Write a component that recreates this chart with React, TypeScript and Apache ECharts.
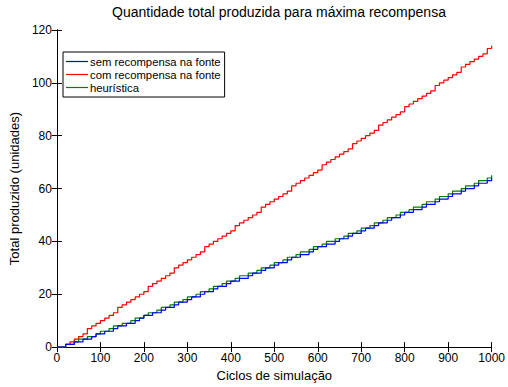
import React, { useEffect, useRef } from "react";
import * as echarts from "echarts";

const title = "Quantidade total produzida para máxima recompensa";
const xName = "Ciclos de simulação";
const yName = "Total produzido (unidades)";
const seriesNames = ["sem recompensa na fonte", "com recompensa na fonte", "heurística"];
const colors = ["#0000ff", "#ff0000", "#008000"];

// cycle samples every 10 cycles: 0, 10, ..., 1000
const cycles: number[] = Array.from({ length: 101 }, (_, i) => i * 10);

const semRecompensa = [
  0, 0, 1, 1, 2, 2, 3, 3, 4, 5, 5,
  6, 6, 7, 8, 8, 9, 9, 10, 11, 12,
  12, 13, 13, 14, 15, 15, 16, 17, 17, 18,
  19, 19, 20, 21, 21, 22, 23, 23, 24, 25,
  25, 26, 26, 27, 28, 28, 29, 30, 30, 31,
  32, 32, 33, 34, 34, 35, 35, 36, 37, 38,
  38, 39, 39, 40, 41, 41, 42, 43, 43, 44,
  45, 45, 46, 47, 47, 48, 49, 49, 50, 51,
  51, 52, 52, 53, 54, 54, 55, 56, 56, 57,
  58, 58, 59, 60, 60, 61, 62, 62, 63, 64,
];

const comRecompensa = [
  0, 0, 1, 2, 3, 4, 5, 7, 8, 9, 10,
  11, 12, 13, 15, 16, 17, 18, 19, 20, 21,
  23, 24, 25, 26, 27, 28, 30, 31, 32, 33,
  34, 35, 36, 38, 39, 40, 41, 42, 43, 44,
  46, 47, 48, 49, 50, 51, 53, 54, 55, 56,
  57, 58, 59, 61, 62, 63, 64, 65, 66, 67,
  69, 70, 71, 72, 73, 74, 75, 77, 78, 79,
  80, 81, 82, 84, 85, 86, 87, 88, 89, 91,
  92, 93, 94, 95, 96, 97, 99, 100, 101, 102,
  103, 104, 106, 107, 108, 109, 110, 111, 113, 114,
];

const heuristica = [
  0, 0, 1, 1, 2, 3, 3, 4, 4, 5, 6,
  6, 7, 8, 8, 9, 9, 10, 11, 11, 12,
  13, 13, 14, 15, 15, 16, 17, 17, 18, 19,
  19, 20, 21, 21, 22, 23, 23, 24, 25, 25,
  26, 27, 27, 28, 28, 29, 30, 30, 31, 32,
  32, 33, 34, 34, 35, 36, 36, 37, 38, 38,
  39, 40, 40, 41, 41, 42, 43, 43, 44, 45,
  45, 46, 47, 47, 48, 49, 49, 50, 51, 51,
  52, 53, 53, 54, 55, 55, 56, 57, 57, 58,
  59, 59, 60, 61, 61, 62, 63, 63, 64, 65,
];

const seriesValues = [semRecompensa, comRecompensa, heuristica];

export default function App() {
  const ref = useRef<HTMLDivElement>(null);
  useEffect(() => {
    if (!ref.current) return;
    const chart = echarts.init(ref.current, undefined, { renderer: "svg" });
    const font = "Liberation Sans, Arial, sans-serif";
    const axisCommon = {
      axisLine: { show: true, lineStyle: { color: "#000", width: 1 } },
      axisTick: { show: true, inside: true, length: 5, lineStyle: { color: "#000" } },
      splitLine: { show: false },
    };
    chart.setOption({
      animation: false,
      backgroundColor: "#fff",
      title: {
        text: title,
        left: 274,
        textAlign: "center",
        top: 0,
        textStyle: { fontFamily: font, fontSize: 14, fontWeight: "normal", color: "#000" },
      },
      legend: {
        orient: "vertical",
        left: 63,
        top: 52,
        padding: [4, 4, 4, 3],
        itemGap: 2,
        itemWidth: 22,
        itemHeight: 13,
        icon: "path://M0,6H22V7.2H0Z",
        borderColor: "#000",
        borderWidth: 1,
        backgroundColor: "#fff",
        textStyle: { fontFamily: font, fontSize: 11.3, color: "#000", padding: [0, 0, 0, -3] },
        data: seriesNames,
      },
      grid: { left: 51, right: 11, top: 30, bottom: 31, containLabel: false },
      xAxis: [
        {
          type: "value",
          min: 0,
          max: 1000,
          interval: 100,
          position: "bottom",
          name: xName,
          nameLocation: "middle",
          nameGap: 21,
          nameTextStyle: { fontFamily: font, fontSize: 13, color: "#000" },
          axisLabel: {
            fontFamily: font,
            fontSize: 12,
            color: "#000",
            margin: 5,
            formatter: (v: number) => String(v),
          },
          ...axisCommon,
        },
        {
          type: "value",
          min: 0,
          max: 1000,
          interval: 100,
          position: "top",
          axisLabel: { show: false },
          ...axisCommon,
        },
      ],
      yAxis: [
        {
          type: "value",
          min: 0,
          max: 120,
          interval: 20,
          position: "left",
          name: yName,
          nameLocation: "middle",
          nameGap: 24,
          nameTextStyle: { fontFamily: font, fontSize: 13, color: "#000" },
          axisLabel: { fontFamily: font, fontSize: 12, color: "#000", margin: 5 },
          ...axisCommon,
        },
        {
          type: "value",
          min: 0,
          max: 120,
          interval: 20,
          position: "right",
          axisLabel: { show: false },
          ...axisCommon,
        },
      ],
      series: seriesNames.map((name, k) => ({
        name,
        type: "line",
        step: "end",
        symbol: "none",
        color: colors[k],
        lineStyle: { color: colors[k], width: 1.2 },
        data: cycles.map((c, i) => [c, seriesValues[k][i]]),
        z: k === 1 ? 2 : k === 2 ? 3 : 4,
      })),
    });
    return () => chart.dispose();
  }, []);
  return (
    <div
      ref={ref}
      style={{ position: "absolute", left: 0, top: 0, width: 508, height: 387 }}
    />
  );
}
